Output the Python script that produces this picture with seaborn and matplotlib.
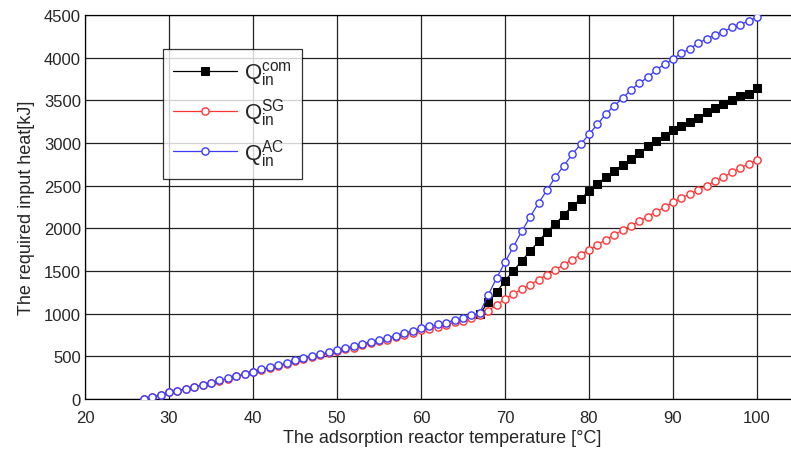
import matplotlib
matplotlib.use("Agg")
import matplotlib.pyplot as plt
import seaborn as sns
import pandas as pd

temps = list(range(27, 101))
temps_com = list(range(67, 101))

q_com = [998, 1133, 1250, 1387, 1500, 1621, 1731, 1848, 1961, 2051,
         2156, 2262, 2340, 2441, 2516, 2604, 2672, 2746, 2812, 2883, 2961, 3027, 3086, 3156,
         3203, 3250, 3297, 3359, 3414, 3457, 3508, 3547, 3578, 3641]

q_sg = [0, 25, 50, 78, 97, 118, 140, 165, 191, 216, 240, 265, 288, 316, 340, 362, 385, 412,
        443, 470, 493, 511, 534, 558, 581, 602, 628, 652, 674, 696, 723, 752, 776, 805, 826,
        848, 870, 897, 918, 950, 985, 1035, 1102, 1172, 1230, 1289, 1340, 1398, 1457, 1515,
        1574, 1631, 1693, 1748, 1805, 1869, 1922, 1980, 2031, 2082, 2137, 2195, 2246, 2304,
        2355, 2402, 2449, 2500, 2551, 2601, 2656, 2707, 2754, 2800]

q_ac = [0, 25, 50, 78, 97, 118, 140, 166, 193, 218, 243, 268, 292, 322, 348, 370, 394, 422,
        455, 483, 506, 525, 549, 574, 598, 619, 646, 671, 694, 716, 744, 774, 799, 829, 851,
        874, 896, 925, 946, 980, 1012, 1219, 1418, 1602, 1785, 1965, 2137, 2297, 2449, 2601,
        2734, 2867, 2984, 3101, 3218, 3340, 3437, 3523, 3625, 3703, 3769, 3859, 3922, 3984,
        4055, 4101, 4172, 4219, 4269, 4304, 4355, 4383, 4433, 4473]

labels = [r"$\mathrm{Q}_{\mathrm{in}}^{\mathrm{com}}$",
          r"$\mathrm{Q}_{\mathrm{in}}^{\mathrm{SG}}$",
          r"$\mathrm{Q}_{\mathrm{in}}^{\mathrm{AC}}$"]
x_ticks = [20, 30, 40, 50, 60, 70, 80, 90, 100]
y_ticks = [0, 500, 1000, 1500, 2000, 2500, 3000, 3500, 4000, 4500]

sns.set_style("white")
plt.rcParams["font.family"] = ["Liberation Sans", "DejaVu Sans"]
plt.rcParams["mathtext.fontset"] = "custom"
plt.rcParams["mathtext.rm"] = "Liberation Sans"
plt.rcParams["mathtext.it"] = "Liberation Sans:italic"

fig = plt.figure(figsize=(7.91, 4.56), dpi=100)
ax = fig.add_axes([85 / 791, 56 / 456, 714 / 791, 384 / 456])

df_com = pd.DataFrame({"T": temps_com, "Q": q_com})
df = pd.DataFrame({"T": temps, "sg": q_sg, "ac": q_ac})

sns.lineplot(data=df_com, x="T", y="Q", ax=ax, color="black", lw=0.9, marker="s",
             markersize=5.2, markerfacecolor="black", markeredgecolor="black",
             label=labels[0], estimator=None, zorder=3)
sns.lineplot(data=df, x="T", y="sg", ax=ax, color="#ff3535", lw=0.9, marker="o",
             markersize=5.2, markerfacecolor="white", markeredgecolor="#ff3535",
             markeredgewidth=1.0, label=labels[1], estimator=None, zorder=4)
sns.lineplot(data=df, x="T", y="ac", ax=ax, color="#3a3aff", lw=0.9, marker="o",
             markersize=5.2, markerfacecolor="white", markeredgecolor="#3a3aff",
             markeredgewidth=1.0, label=labels[2], estimator=None, zorder=5)

ax.set_xlim(20, 105)
ax.set_ylim(0, 4500)
ax.set_xticks(x_ticks)
ax.set_yticks(y_ticks)
ax.grid(True, color="#222222", lw=0.9)
ax.set_axisbelow(True)
for s in ax.spines.values():
    s.set_color("black")
    s.set_linewidth(0.9)
ax.tick_params(axis="both", labelsize=12, length=0)
ax.tick_params(axis="x", pad=8)
ax.tick_params(axis="y", pad=3)
ax.set_xlabel("The adsorption reactor temperature [°C]", fontsize=13, labelpad=3)
ax.set_ylabel("The required input heat[kJ]", fontsize=13, labelpad=6)

leg = ax.legend(loc="upper left", bbox_to_anchor=(0.109, 0.911), borderaxespad=0,
                fancybox=False, frameon=True, fontsize=16, handlelength=2.9,
                labelspacing=0.4, borderpad=0.45, handletextpad=0.3)
leg.get_frame().set_edgecolor("black")
leg.get_frame().set_linewidth(0.9)

fig.savefig("out.png", dpi=100)
